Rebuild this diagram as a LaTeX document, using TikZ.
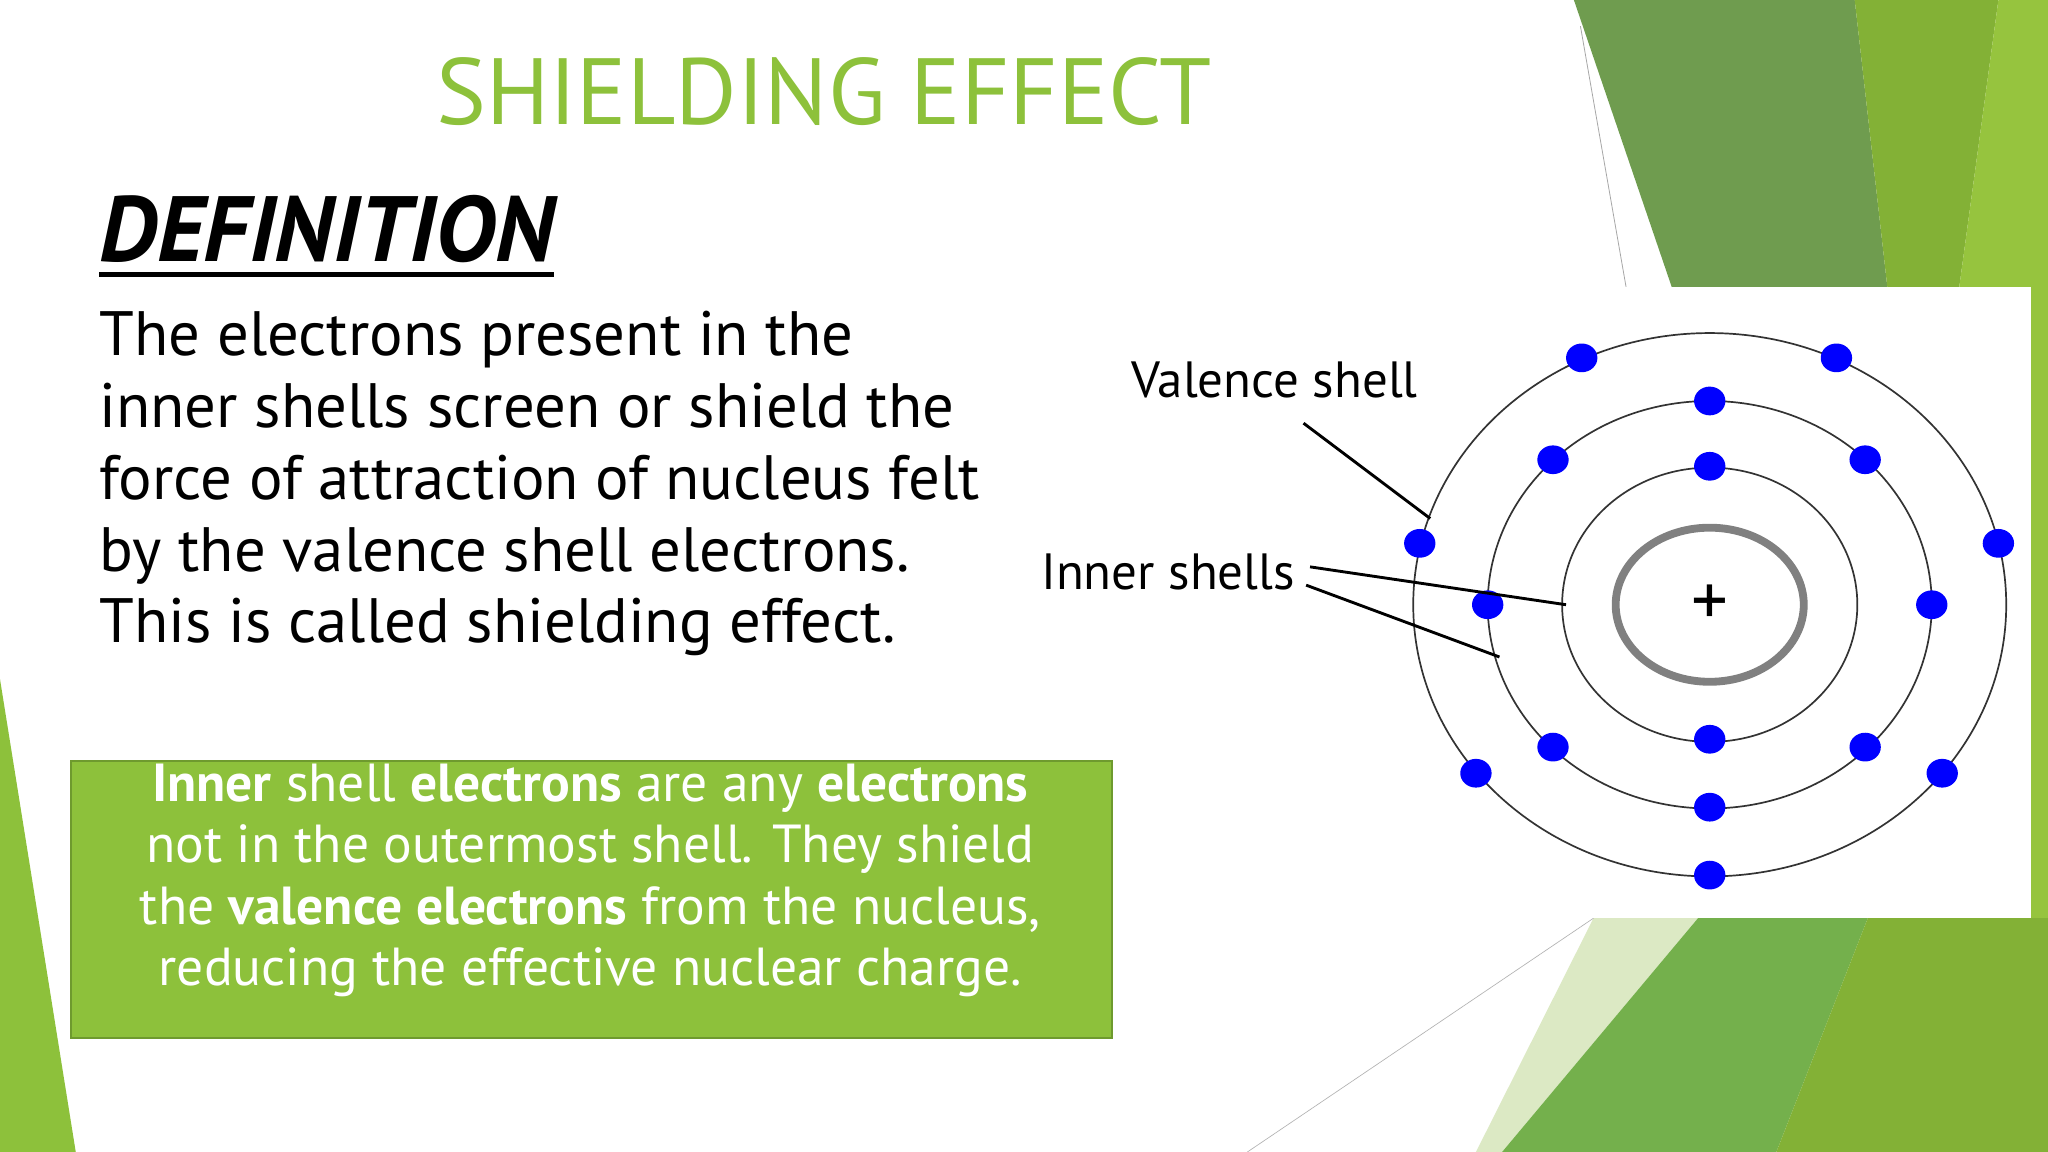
\documentclass[tikz,border=0pt]{standalone}
\usepackage{fontspec}
\setmainfont{PT Sans}
\definecolor{lg}{HTML}{8DC13B}
\definecolor{mg}{HTML}{6F9C4F}
\definecolor{g2}{HTML}{83B136}
\definecolor{g3}{HTML}{96C43E}
\definecolor{g4}{HTML}{74B04C}
\definecolor{pale}{HTML}{DCE9C4}
\definecolor{boxedge}{HTML}{6E9A2E}
\tikzset{elec/.style={fill=blue,draw=none,ellipse,minimum width=24pt,minimum height=22pt,inner sep=0pt},
 shell/.style={draw=black!80,line width=1.3pt},
 lead/.style={draw=black,line width=2.2pt},
 lbl/.style={font=\fontsize{39}{42}\selectfont,inner sep=0pt,anchor=west}}
\usetikzlibrary{shapes.geometric}
\begin{document}
\begin{tikzpicture}[x=1pt,y=-1pt]
\useasboundingbox (0,0) rectangle (1568,882);
\fill[white] (0,0) rectangle (1568,882);
% decorations top right
\fill[mg] (1205,0) -- (1420,0) -- (1445,220) -- (1280,220) -- cycle;
\fill[g2] (1420,0) -- (1530,0) -- (1500,220) -- (1445,220) -- cycle;
\fill[g3] (1530,0) -- (1568,0) -- (1568,882) -- (1555,882) -- (1555,220) -- (1500,220) -- cycle;
\draw[gray!70,line width=0.6pt] (1210,20) -- (1245,220);
% decorations bottom
\fill[pale] (1220,703) -- (1300,703) -- (1150,882) -- (1130,882) -- cycle;
\fill[g4] (1300,703) -- (1430,703) -- (1360,882) -- (1150,882) -- cycle;
\fill[g2] (1430,703) -- (1568,703) -- (1568,882) -- (1360,882) -- cycle;
\draw[gray!60,line width=0.5pt] (955,882) -- (1220,703);
\fill[lg] (0,520) -- (58,882) -- (0,882) -- cycle;
% white picture box
\fill[white] (1000,220) rectangle (1555,703);
% title
\node[font=\fontsize{72}{80}\selectfont,text=lg,inner sep=0pt] (title) at (631,70) {SHIELDING EFFECT};
\node[font=\fontsize{71}{75}\selectfont\bfseries\itshape,inner sep=0pt,anchor=base west] (def) at (76,200) {DEFINITION};
\draw[line width=4pt] (76,210) -- (424,210);
\node[font=\fontsize{48}{55}\selectfont,align=left,anchor=north west,inner sep=0pt] (body) at (76,238)
 {The electrons present in the\\inner shells screen or shield the\\force of attraction of nucleus felt\\by the valence shell electrons.\\This is called shielding effect.};
% green box
\draw[fill=lg,draw=boxedge,line width=1.5pt] (54,583) rectangle (851,795);
\node[font=\fontsize{41}{47}\selectfont,text=white,align=center,inner sep=0pt] (note) at (452,674)
 {\textbf{Inner} shell \textbf{electrons} are any \textbf{electrons}\\not in the outermost shell. They shield\\the \textbf{valence electrons} from the nucleus,\\reducing the effective nuclear charge.};
% atom
\coordinate (c) at (1309,463);
\draw[gray,line width=6pt] (c) ellipse [x radius=72, y radius=59];
\node[font=\fontsize{56}{56}\selectfont,inner sep=0pt] (plus) at (c) {+};
\draw[shell] (c) ellipse [x radius=113, y radius=105];
\draw[shell] (c) ellipse [x radius=170, y radius=156];
\draw[shell] (c) ellipse [x radius=227, y radius=208];
\foreach \p [count=\i] in {(1309,357),(1309,566),(1309,307),(1189,352),(1428,352),(1139,463),(1479,463),(1189,572),(1428,572),(1309,618),(1211,274),(1406,274),(1087,416),(1530,416),(1130,592),(1487,592),(1309,670)}
  \node[elec] (e\i) at \p {};
\node[lbl] (val) at (866,291) {Valence shell};
\node[lbl] (inn) at (797,438) {Inner shells};
\coordinate (v0) at (998,324);
\coordinate (v1) at (1095,397);
\coordinate (i0) at (1003,434);
\coordinate (i0b) at (1000,448);
\coordinate (i1) at (1199,463);
\coordinate (i2) at (1148,503);
\draw[lead] (v0) -- (v1);
\draw[lead] (i0) -- (i1);
\draw[lead] (i0b) -- (i2);
\end{tikzpicture}
\end{document}
